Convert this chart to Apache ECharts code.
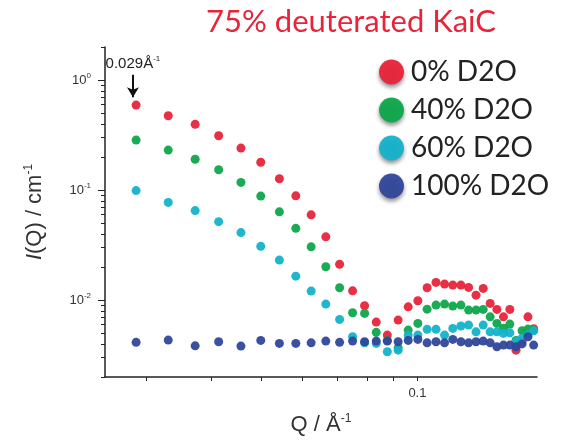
<!DOCTYPE html>
<html>
<head>
<meta charset="utf-8">
<style>
  html, body { margin: 0; padding: 0; background: #fff; }
  #chart { width: 569px; height: 441px; }
</style>
<script src="https://cdn.jsdelivr.net/npm/echarts@6/dist/echarts.min.js"></script>
</head>
<body>
<div id="chart"></div>
<script>
// Q values (1/Å)
var qValues = [0.0287, 0.0331, 0.0373, 0.0414, 0.0457, 0.0499, 0.0542, 0.0583, 0.0624, 0.0666,
  0.0708, 0.0750, 0.0791, 0.0833, 0.0875, 0.0918, 0.0960, 0.1002, 0.1044, 0.1086,
  0.1128, 0.1170, 0.1213, 0.1255, 0.1297, 0.1339, 0.1381, 0.1423, 0.1465, 0.1507,
  0.1549, 0.1591, 0.1633, 0.1675];

// I(Q) in 1/cm for each D2O fraction
var d2o0 = [0.593, 0.474, 0.396, 0.312, 0.241, 0.179, 0.127, 0.0887, 0.0596, 0.0376,
  0.0212, 0.01215, 0.00888, 0.00631, 0.00481, 0.00658, 0.00869, 0.00986, 0.01294, 0.01449,
  0.01398, 0.01369, 0.01369, 0.01305, 0.0111, 0.01277, 0.00933, 0.00823, 0.00705, 0.00823,
  0.00351, 0.0042, 0.00705, 0.0055];
var d2o40 = [0.285, 0.231, 0.191, 0.153, 0.1175, 0.0882, 0.0635, 0.0449, 0.0305, 0.0201,
  0.01294, 0.00767, 0.00757, 0.00509, 0.0043, 0.00368, 0.00534, 0.00614, 0.00828, 0.00901,
  0.0092, 0.00882, 0.00901, 0.00811, 0.00811, 0.00823, 0.00705, 0.00614, 0.00556, 0.00605,
  0.0043, 0.00526, 0.00545, 0.00534];
var d2o60 = [0.099, 0.0773, 0.0651, 0.0517, 0.0411, 0.0308, 0.0231, 0.0165, 0.01208, 0.0092,
  0.00668, 0.00464, 0.00409, 0.00404, 0.00339, 0.00351, 0.00481, 0.00481, 0.00542, 0.00542,
  0.00481, 0.00553, 0.00581, 0.00593, 0.00515, 0.00593, 0.00515, 0.00515, 0.00498, 0.00504,
  0.00418, 0.0045, 0.00481, 0.00526];
var d2o100 = [0.00413, 0.00433, 0.00384, 0.00418, 0.00382, 0.0043, 0.00404, 0.00404, 0.00409, 0.00424,
  0.00413, 0.00424, 0.00418, 0.00424, 0.00424, 0.00418, 0.0043, 0.00439, 0.00409, 0.00418,
  0.00409, 0.00439, 0.00418, 0.00409, 0.00418, 0.00424, 0.00409, 0.00376, 0.0039, 0.0039,
  0.00376, 0.0040, 0.00464, 0.0039];

var seriesNames = ['0% D2O', '40% D2O', '60% D2O', '100% D2O'];
var seriesColors = ['#e8243a', '#0ea64c', '#14b2ca', '#30479a'];

var xTicks = [0.03, 0.04, 0.05, 0.06, 0.07, 0.08, 0.09, 0.1];
var xLabels = [0.1];
var yMajor = [0.01, 0.1, 1];
var yMinor = [0.002, 0.003, 0.004, 0.005, 0.006, 0.007, 0.008, 0.009,
  0.02, 0.03, 0.04, 0.05, 0.06, 0.07, 0.08, 0.09,
  0.2, 0.3, 0.4, 0.5, 0.6, 0.7, 0.8, 0.9, 2];

var arrowQ = 0.0283;

function pairs(ys) {
  return qValues.map(function (q, i) { return [q, ys[i]]; });
}

var chart = echarts.init(document.getElementById('chart'));

var supRich = {
  b: { fontSize: 13, color: '#333', fontFamily: 'Liberation Sans' },
  s: { fontSize: 8, color: '#333', fontFamily: 'Liberation Sans', padding: [0, 0, 9, 0] }
};

var allData = [d2o0, d2o40, d2o60, d2o100];
var series = allData.map(function (ys, k) {
  return {
    name: seriesNames[k],
    type: 'scatter',
    symbolSize: 9,
    itemStyle: { color: seriesColors[k], opacity: 0.95 },
    data: pairs(ys),
    z: 2 + k
  };
});

// arrow marking q = 0.029
series[0].markLine = {
  silent: true,
  animation: false,
  symbol: ['none', 'arrow'],
  symbolSize: [9, 10],
  lineStyle: { color: '#111', width: 2, type: 'solid' },
  label: {
    show: true,
    position: 'start',
    distance: 2,
    formatter: '{b|0.029Å}{s|-1}',
    rich: {
      b: { fontSize: 15, color: '#222', fontFamily: 'Liberation Sans' },
      s: { fontSize: 8, color: '#222', fontFamily: 'Liberation Sans', padding: [0, 0, 10, 0] }
    }
  },
  data: [[{ coord: [arrowQ, 1.12] }, { coord: [arrowQ, 0.7] }]]
};

chart.setOption({
  backgroundColor: '#fff',
  animation: false,
  title: {
    text: '75% deuterated KaiC',
    left: 346,
    top: 1,
    textAlign: 'center',
    textStyle: { color: '#e8243a', fontSize: 31, fontWeight: 'normal', fontFamily: 'Lato' }
  },
  legend: {
    orient: 'vertical',
    left: 374,
    top: 52,
    itemWidth: 25,
    itemHeight: 25,
    itemGap: 8,
    icon: 'circle',
    data: seriesNames,
    itemStyle: { shadowBlur: 4, shadowColor: 'rgba(0,0,0,0.45)', shadowOffsetY: 3 },
    textStyle: { fontSize: 28, color: '#222', fontFamily: 'Lato', padding: [0, 0, 0, 2], lineHeight: 30 }
  },
  grid: { left: 105, right: 32, top: 47, bottom: 63 },
  xAxis: {
    type: 'log',
    min: 0.025,
    max: 0.17,
    name: '{n|Q / Å}{s|-1}',
    nameLocation: 'middle',
    nameGap: 36,
    nameTextStyle: {
      rich: {
        n: { fontSize: 22, color: '#333', fontFamily: 'Liberation Sans' },
        s: { fontSize: 12, color: '#333', fontFamily: 'Liberation Sans', padding: [0, 0, 12, 0] }
      }
    },
    axisLine: { lineStyle: { color: '#222', width: 1.5 } },
    axisTick: { customValues: xTicks, length: 4, lineStyle: { color: '#222' } },
    axisLabel: {
      customValues: xLabels,
      margin: 10,
      fontSize: 13,
      color: '#333',
      fontFamily: 'Liberation Sans',
      formatter: function (v) { return String(v); }
    },
    splitLine: { show: false }
  },
  yAxis: [{
    type: 'log',
    min: 0.002,
    max: 2,
    position: 'left',
    name: '{i|I}{n|(Q) / cm}{s|-1}',
    nameLocation: 'middle',
    nameGap: 58,
    nameTextStyle: {
      rich: {
        i: { fontSize: 22, color: '#333', fontStyle: 'italic', fontFamily: 'Liberation Sans' },
        n: { fontSize: 22, color: '#333', fontFamily: 'Liberation Sans' },
        s: { fontSize: 12, color: '#333', fontFamily: 'Liberation Sans', padding: [0, 0, 12, 0] }
      }
    },
    axisLine: { show: true, lineStyle: { color: '#222', width: 1.5 } },
    axisTick: { customValues: yMinor, length: 4, lineStyle: { color: '#222' } },
    axisLabel: { show: false },
    splitLine: { show: false }
  }, {
    type: 'log',
    min: 0.002,
    max: 2,
    position: 'left',
    axisLine: { show: false },
    axisTick: { customValues: yMajor, length: 7, lineStyle: { color: '#222' } },
    axisLabel: {
      customValues: yMajor,
      margin: 14,
      formatter: function (v) {
        var e = Math.round(Math.log10(v));
        return '{b|10}{s|' + e + '}';
      },
      rich: supRich
    },
    splitLine: { show: false }
  }],
  series: series
});
</script>
</body>
</html>
